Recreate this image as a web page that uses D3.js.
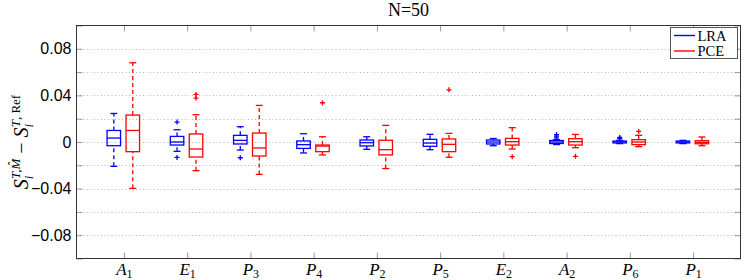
<!DOCTYPE html>
<html>
<head>
<meta charset="utf-8">
<script src="https://cdn.jsdelivr.net/npm/d3@7"></script>
<style>
body { margin: 0; background: #fff; }
</style>
</head>
<body>
<script>
const width = 747, height = 280;
const margin = {top: 25.5, right: 6.5, bottom: 21.5, left: 76.5};

// category labels: letter + subscript
const categories = ["A1", "E1", "P3", "P4", "P2", "P5", "E2", "A2", "P6", "P1"];
const yTickValues = [-0.1, -0.08, -0.06, -0.04, -0.02, 0, 0.02, 0.04, 0.06, 0.08, 0.1];
const yLabelValues = [-0.08, -0.04, 0, 0.04, 0.08];
const gridValues = [-0.08, -0.06, -0.04, -0.02, 0, 0.02, 0.04, 0.06, 0.08];

// [lower whisker, q1, median, q3, upper whisker]
const lraBoxes = [
  [-0.0209, -0.0032, 0.0034, 0.0099, 0.0245],
  [-0.0080, -0.0026, 0.0000, 0.0048, 0.0105],
  [-0.0069, -0.0017, 0.0014, 0.0057, 0.0131],
  [-0.0094, -0.0055, -0.0023, 0.0009, 0.0071],
  [-0.0063, -0.0034, -0.0006, 0.0017, 0.0045],
  [-0.0066, -0.0037, -0.0009, 0.0023, 0.0066],
  [-0.0032, -0.0017, 0.0000, 0.0017, 0.0030],
  [-0.0022, -0.0013, 0.0000, 0.0013, 0.0020],
  [-0.0014, -0.0008, 0.0000, 0.0008, 0.0014],
  [-0.0014, -0.0008, 0.0000, 0.0008, 0.0014]
];
const lraOutliers = [[], [0.0171, -0.0132], [-0.0135], [], [], [], [], [0.0035, 0.0050, 0.0064], [0.0030, 0.0039], []];

const pceBoxes = [
  [-0.0398, -0.0083, 0.0099, 0.0231, 0.0680],
  [-0.0246, -0.0129, -0.0060, 0.0069, 0.0234],
  [-0.0278, -0.0120, -0.0051, 0.0077, 0.0314],
  [-0.0111, -0.0083, -0.0035, -0.0026, 0.0045],
  [-0.0228, -0.0111, -0.0066, 0.0015, 0.0143],
  [-0.0131, -0.0083, -0.0020, 0.0026, 0.0074],
  [-0.0060, -0.0026, 0.0003, 0.0031, 0.0123],
  [-0.0049, -0.0026, 0.0003, 0.0028, 0.0065],
  [-0.0040, -0.0023, 0.0000, 0.0020, 0.0057],
  [-0.0032, -0.0015, -0.0003, 0.0011, 0.0043]
];
const pceOutliers = [[], [0.0377, 0.0408], [], [0.0337], [], [0.0448], [-0.0126], [-0.0123], [0.0091], []];

const series = [
  {name: "LRA", color: "#0000ff", boxes: lraBoxes, outliers: lraOutliers, offset: -0.16},
  {name: "PCE", color: "#ff0000", boxes: pceBoxes, outliers: pceOutliers, offset: 0.14}
];

const svg = d3.select("body").append("svg")
  .attr("width", width)
  .attr("height", height);

const x = d3.scalePoint()
  .domain(categories)
  .range([margin.left, width - margin.right])
  .padding(0.75);
const y = d3.scaleLinear()
  .domain([-0.1, 0.1])
  .range([height - margin.bottom, margin.top]);

const step = x.step();
const boxW = 13.5, capW = 7;

// grid
svg.append("g")
  .selectAll("line")
  .data(gridValues)
  .join("line")
  .attr("x1", margin.left)
  .attr("x2", width - margin.right)
  .attr("y1", d => Math.round(y(d)) + 0.5)
  .attr("y2", d => Math.round(y(d)) + 0.5)
  .attr("stroke", "#b5b5b5")
  .attr("stroke-dasharray", "1,2.5");

// axes
const fmt = d => yLabelValues.some(v => Math.abs(v - d) < 1e-9) ? (d === 0 ? "0" : d3.format(".2f")(d)) : "";

const styleAxis = g => {
  g.select(".domain").remove();
  g.selectAll(".tick line").attr("stroke", "#999");
};

svg.append("g")
  .attr("transform", `translate(${margin.left},0)`)
  .call(d3.axisLeft(y).tickValues(yTickValues).tickSize(-6).tickPadding(5).tickFormat(fmt))
  .call(styleAxis)
  .call(g => g.selectAll("text")
    .attr("font-family", "Liberation Sans, Arial, sans-serif")
    .attr("font-size", 16)
    .attr("fill", "#000"));

svg.append("g")
  .attr("transform", `translate(${width - margin.right},0)`)
  .call(d3.axisRight(y).tickValues(yTickValues).tickSize(-6).tickFormat(""))
  .call(styleAxis);

svg.append("g")
  .attr("transform", `translate(0,${margin.top})`)
  .call(d3.axisTop(x).tickSize(-6).tickFormat(""))
  .call(styleAxis);

const xAxis = svg.append("g")
  .attr("transform", `translate(0,${height - margin.bottom})`)
  .call(d3.axisBottom(x).tickSize(-6).tickFormat(""))
  .call(styleAxis);

xAxis.selectAll(".tick")
  .append("text")
  .attr("y", 16.5)
  .attr("text-anchor", "middle")
  .attr("font-family", "Liberation Serif, Times New Roman, serif")
  .attr("font-size", 17)
  .attr("fill", "#000")
  .each(function(d) {
    const t = d3.select(this);
    t.append("tspan").attr("font-style", "italic").text(d[0]);
    t.append("tspan").attr("font-size", 12).attr("dy", 3).text(d.slice(1));
  });

// frame
svg.append("rect")
  .attr("x", margin.left)
  .attr("y", margin.top)
  .attr("width", width - margin.left - margin.right)
  .attr("height", height - margin.top - margin.bottom)
  .attr("fill", "none")
  .attr("stroke", "#333");

// boxplots
series.forEach(s => {
  const g = svg.append("g")
    .attr("stroke", s.color)
    .attr("stroke-width", 1.3)
    .attr("fill", "none");

  const grp = g.selectAll("g")
    .data(s.boxes.map((b, i) => ({cat: categories[i], b, out: s.outliers[i]})))
    .join("g")
    .attr("transform", d => `translate(${x(d.cat) + s.offset * step},0)`);

  // whiskers
  grp.append("line")
    .attr("y1", d => y(d.b[0])).attr("y2", d => y(d.b[1]))
    .attr("stroke-dasharray", "4,3");
  grp.append("line")
    .attr("y1", d => y(d.b[3])).attr("y2", d => y(d.b[4]))
    .attr("stroke-dasharray", "4,3");
  // caps
  grp.append("line")
    .attr("x1", -capW / 2).attr("x2", capW / 2)
    .attr("y1", d => y(d.b[0])).attr("y2", d => y(d.b[0]));
  grp.append("line")
    .attr("x1", -capW / 2).attr("x2", capW / 2)
    .attr("y1", d => y(d.b[4])).attr("y2", d => y(d.b[4]));
  // box
  grp.append("rect")
    .attr("x", -boxW / 2)
    .attr("width", boxW)
    .attr("y", d => y(d.b[3]))
    .attr("height", d => Math.max(0.5, y(d.b[1]) - y(d.b[3])));
  // median
  grp.append("line")
    .attr("x1", -boxW / 2).attr("x2", boxW / 2)
    .attr("y1", d => y(d.b[2])).attr("y2", d => y(d.b[2]));
  // outliers
  grp.selectAll("path")
    .data(d => d.out)
    .join("path")
    .attr("transform", v => `translate(0,${y(v)})`)
    .attr("d", "M-2.5,0H2.5M0,-2.5V2.5")
    .attr("stroke-width", 1.3);
});

// title
svg.append("text")
  .attr("x", (margin.left + width - margin.right) / 2)
  .attr("y", 16)
  .attr("text-anchor", "middle")
  .attr("font-family", "Liberation Serif, Times New Roman, serif")
  .attr("font-size", 18)
  .text("N=50");

// y label
const yl = svg.append("text")
  .attr("transform", "translate(28,142) rotate(-90)")
  .attr("text-anchor", "middle")
  .attr("font-family", "Liberation Serif, Times New Roman, serif")
  .attr("font-size", 20);
yl.append("tspan").attr("font-style", "italic").text("S");
yl.append("tspan").attr("font-style", "italic").attr("font-size", 13).attr("dy", 4.5).text("i");
yl.append("tspan").attr("font-style", "italic").attr("font-size", 13).attr("dx", -3.5).attr("dy", -13).text("T,M\u0302");
yl.append("tspan").attr("dy", 8.5).text(" \u2212 ");
yl.append("tspan").attr("font-style", "italic").text("S");
yl.append("tspan").attr("font-style", "italic").attr("font-size", 13).attr("dy", 4.5).text("i");
yl.append("tspan").attr("font-style", "italic").attr("font-size", 13).attr("dx", -3.5).attr("dy", -13).text("T");
yl.append("tspan").attr("font-size", 13).text(", Ref");

// legend
const legend = svg.append("g").attr("transform", "translate(670.5,27.5)");
legend.append("rect")
  .attr("width", 67)
  .attr("height", 31)
  .attr("fill", "#fff")
  .attr("stroke", "#555");
legend.selectAll("g")
  .data(series)
  .join("g")
  .attr("transform", (d, i) => `translate(0,${8 + i * 15.5})`)
  .call(g => g.append("line")
    .attr("x1", 3.5).attr("x2", 24.5)
    .attr("stroke", d => d.color)
    .attr("stroke-width", 1.4))
  .call(g => g.append("text")
    .attr("x", 27)
    .attr("y", 5)
    .attr("font-family", "Liberation Serif, Times New Roman, serif")
    .attr("font-size", 14.5)
    .text(d => d.name));
</script>
</body>
</html>
